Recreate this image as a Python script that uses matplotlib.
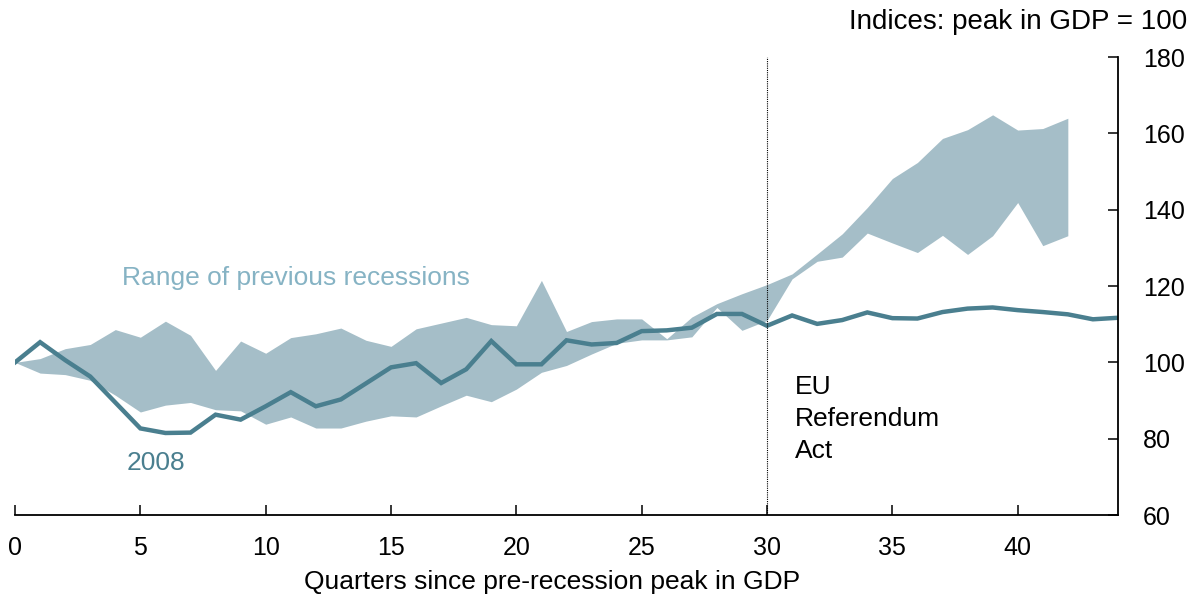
import numpy as np
import matplotlib.pyplot as plt

plt.rcParams['font.family'] = ['Liberation Sans', 'DejaVu Sans']

# 2008 recession path (quarters 0..44)
q_2008 = list(range(45))
gdp_2008 = [100, 105.3, 100.6, 96.3, 89.5, 82.7, 81.5, 81.6, 86.3, 85.0,
            88.5, 92.2, 88.5, 90.3, 94.5, 98.7, 99.8, 94.6, 98.2, 105.6,
            99.5, 99.5, 105.8, 104.7, 105.1, 108.2, 108.4, 109.1, 112.7, 112.7,
            109.6, 112.3, 110.1, 111.1, 113.1, 111.6, 111.5, 113.2, 114.1, 114.4,
            113.7, 113.2, 112.6, 111.3, 111.7]

# range of previous recessions (quarters 0..42)
q_range = list(range(43))
range_hi = [100, 101.0, 103.6, 104.7, 108.6, 106.6, 110.8, 107.1, 97.9, 105.6,
            102.4, 106.5, 107.5, 109.0, 105.8, 104.2, 108.8, 110.3, 111.8, 109.9,
            109.6, 121.5, 108.1, 110.7, 111.4, 111.4, 106.2, 111.9, 115.4, 118.0,
            120.4, 123.2, 128.4, 133.7, 140.6, 148.2, 152.4, 158.7, 161.0, 164.9,
            160.9, 161.3, 164.0]
range_lo = [100, 97.2, 96.8, 95.3, 91.4, 87.0, 88.8, 89.5, 87.6, 87.3,
            83.8, 85.7, 82.8, 82.8, 84.6, 86.0, 85.7, 88.6, 91.4, 89.7,
            93.0, 97.4, 99.2, 102.2, 105.0, 105.9, 105.9, 106.7, 114.4, 108.4,
            111.0, 121.9, 126.5, 127.6, 133.9, 131.3, 128.8, 133.3, 128.3, 133.2,
            141.9, 130.6, 133.2]

band_col = '#a5bec8'
line_col = '#4a7f8f'

fig = plt.figure(figsize=(11.93, 6.02), dpi=100)
ax = fig.add_axes([0.0126, 0.1445, 0.9245, 0.7605])

ax.fill_between(q_range, range_lo, range_hi, color=band_col, linewidth=0)
ax.plot(q_2008, gdp_2008, color=line_col, linewidth=3.2, solid_joinstyle='miter')
ax.axvline(30, color='black', linestyle=(0, (1, 1)), linewidth=0.8)

ax.set_xlim(0, 44)
ax.set_ylim(60, 180)
ax.set_xticks(np.arange(0, 41, 5))
ax.set_yticks(np.arange(60, 181, 20))

ax.spines['top'].set_visible(False)
ax.spines['left'].set_visible(False)
ax.spines['right'].set_linewidth(1.3)
ax.spines['bottom'].set_linewidth(1.3)
ax.yaxis.tick_right()
ax.tick_params(axis='x', direction='in', length=7, width=1.1, labelsize=18, pad=15)
ax.tick_params(axis='y', direction='in', length=7, width=1.1, labelsize=18, pad=18)

ax.set_xlabel('Quarters since pre-recession peak in GDP', fontsize=19, labelpad=7)
ax.xaxis.label.set_x(0.487)

ax.text(4.27, 122.0, 'Range of previous recessions', color='#86b3c4', fontsize=19,
        va='center', ha='left')
ax.text(5.63, 73.6, '2008', color=line_col, fontsize=19, va='center', ha='center')
ax.text(31.1, 96.8, 'EU\nReferendum\nAct', color='black', fontsize=19, va='top',
        ha='left', linespacing=1.42)
fig.text(0.995, 0.963, 'Indices: peak in GDP = 100', fontsize=20, ha='right', va='center')

fig.savefig('out.png', dpi=100)
